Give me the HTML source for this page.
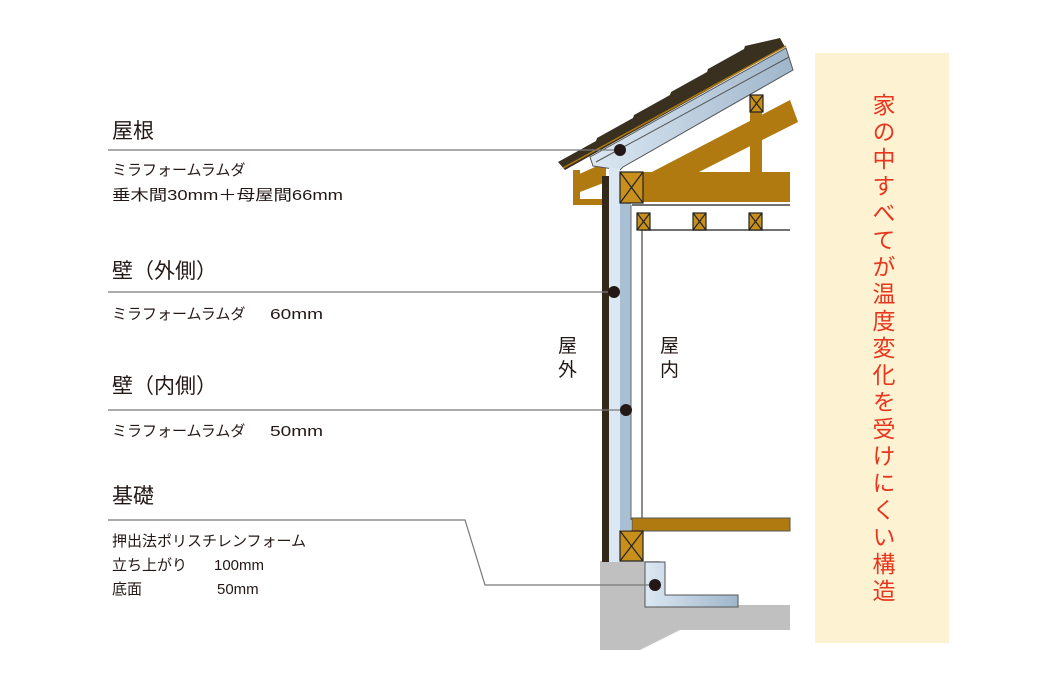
<!DOCTYPE html>
<html><head><meta charset="utf-8"><style>
body{margin:0;width:1040px;height:676px;background:#fff;overflow:hidden;font-family:"Liberation Sans","Noto Sans CJK JP",sans-serif}
svg{position:absolute;left:0;top:0}
</style></head><body>
<svg width="1040" height="676" viewBox="0 0 1040 676" font-family="Liberation Sans, Noto Sans CJK JP, sans-serif">
<defs>
<linearGradient id="bl" x1="0" y1="0" x2="1" y2="0"><stop offset="0" stop-color="#dbe8f3"/><stop offset="1" stop-color="#9fb6cb"/></linearGradient>
</defs>
<rect x="815" y="53" width="134" height="590" fill="#fdf3d3"/>
<text x="882" y="93" fill="#e8361e" font-size="23" style="writing-mode:vertical-rl;letter-spacing:4px">家の中すべてが温度変化を受けにくい構造</text>

<polygon points="600,561 660,561 660,605 790,605 790,630 680,630 640,650 600,650" fill="#c0c0c1"/>
<polygon points="645,562 665,562 665,595 738,595 738,607 645,607" fill="url(#bl)" stroke="#555" stroke-width="1"/>

<polygon points="575,176 606,162 606,182 580,192" fill="#b07a10"/>
<rect x="573" y="170" width="7" height="35" fill="#b07a10"/>
<rect x="573" y="199" width="32" height="6" fill="#b07a10"/>
<rect x="620" y="172" width="170" height="30" fill="#b07a10"/>
<rect x="750" y="95" width="12" height="80" fill="#b07a10"/>
<polygon points="650,173 790,100 798,122 697,173" fill="#b07a10"/>

<polygon points="590,157 786,48 793,70 623,167 620,170 593,166" fill="url(#bl)" stroke="#555" stroke-width="1"/>
<line x1="596" y1="162" x2="789" y2="57" stroke="#555" stroke-width="1"/>
<polygon points="558,162 596,141 597,138 633,118 634,115 670,95 671,92 707,72 708,69 744,49 745,46 780,38 785,47 565,170" fill="#3a3020"/>
<line x1="563" y1="168" x2="786" y2="46" stroke="#b07a10" stroke-width="1.5"/>

<rect x="602" y="176" width="7" height="386" fill="#33291a"/>
<rect x="609" y="168" width="11" height="394" fill="#dbe8f3"/>
<rect x="620" y="200" width="11" height="330" fill="#a9bfd3"/>
<line x1="631" y1="205" x2="631" y2="520" stroke="#666" stroke-width="1"/>
<line x1="632" y1="205" x2="790" y2="205" stroke="#444" stroke-width="1.5"/>
<line x1="640" y1="230" x2="790" y2="230" stroke="#444" stroke-width="1.5"/>
<line x1="642" y1="230" x2="642" y2="518" stroke="#666" stroke-width="1.5"/>
<rect x="632" y="518" width="158" height="13" fill="#b07a10" stroke="#555" stroke-width="1"/>

<g fill="#c8901a" stroke="#222" stroke-width="1.2">
<rect x="620" y="172" width="23" height="31"/><path d="M620,172L643,203M643,172L620,203"/>
<rect x="750" y="95" width="13" height="17"/><path d="M750,95L763,112M763,95L750,112"/>
<rect x="637" y="213" width="13" height="17"/><path d="M637,213L650,230M650,213L637,230"/>
<rect x="693" y="213" width="13" height="17"/><path d="M693,213L706,230M706,213L693,230"/>
<rect x="749" y="213" width="13" height="17"/><path d="M749,213L762,230M762,213L749,230"/>
<rect x="620" y="531" width="23" height="30"/><path d="M620,531L643,561M643,531L620,561"/>
</g>

<g stroke="#777" stroke-width="1.2" fill="none">
<line x1="108" y1="150" x2="620" y2="150"/>
<line x1="108" y1="292" x2="614" y2="292"/>
<line x1="108" y1="410" x2="626" y2="410"/>
<polyline points="108,520 465,520 485,585 655,585"/>
</g>
<g fill="#231815">
<circle cx="620" cy="150" r="6"/><circle cx="614" cy="292" r="6"/><circle cx="626" cy="410" r="6"/><circle cx="655" cy="585" r="6"/>
</g>

<g fill="#231815">
<text x="112" y="138" font-size="21">屋根</text>
<text x="112" y="175" font-size="15">ミラフォームラムダ</text>
<text x="112" y="200" font-size="15" textLength="231" lengthAdjust="spacingAndGlyphs">垂木間30mm＋母屋間66mm</text>
<text x="112" y="278" font-size="21">壁（外側）</text>
<text x="112" y="319" font-size="15">ミラフォームラムダ</text><text x="270" y="319" font-size="15" textLength="53" lengthAdjust="spacingAndGlyphs">60mm</text>
<text x="112" y="393" font-size="21">壁（内側）</text>
<text x="112" y="436" font-size="15">ミラフォームラムダ</text><text x="270" y="436" font-size="15" textLength="53" lengthAdjust="spacingAndGlyphs">50mm</text>
<text x="112" y="503" font-size="21">基礎</text>
<text x="112" y="546" font-size="15">押出法ポリスチレンフォーム</text>
<text x="112" y="570" font-size="15">立ち上がり</text><text x="214" y="570" font-size="15">100mm</text>
<text x="112" y="594" font-size="15">底面</text><text x="217" y="594" font-size="15">50mm</text>
<text x="558" y="352" font-size="19">屋</text>
<text x="558" y="376" font-size="19">外</text>
<text x="660" y="352" font-size="19">屋</text>
<text x="660" y="376" font-size="19">内</text>
</g>
</svg>
</body></html>
